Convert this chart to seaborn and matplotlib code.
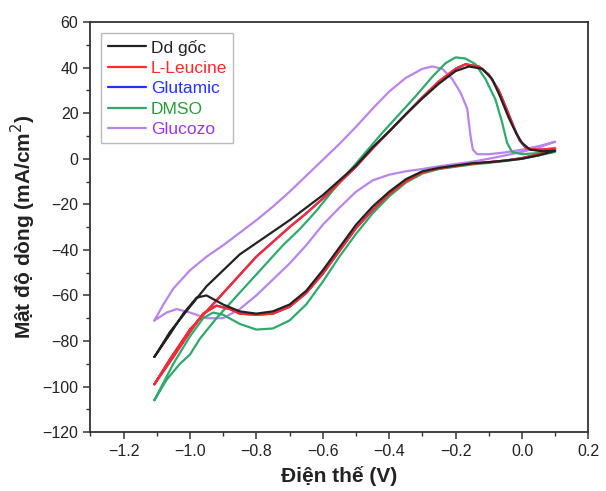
import numpy as np
import pandas as pd
import matplotlib
matplotlib.use("Agg")
import matplotlib.pyplot as plt
from matplotlib.ticker import MultipleLocator
import seaborn as sns

# ---------------- data ----------------
series_names = ["Dd gốc", "L-Leucine", "Glutamic", "DMSO", "Glucozo"]

# Dd gốc: forward branch then return branch
dd_x = [-1.107, -1.06, -1.0, -0.95, -0.90, -0.85, -0.80, -0.75, -0.70, -0.65, -0.60, -0.55, -0.50, -0.45,
        -0.40, -0.35, -0.30, -0.25, -0.20, -0.16, -0.12, -0.09, -0.065, -0.04, -0.017, 0.0, 0.024, 0.06, 0.10,
        0.05, 0.0, -0.05, -0.10, -0.15, -0.20, -0.25, -0.30, -0.35, -0.40, -0.45, -0.50, -0.55, -0.60, -0.65,
        -0.70, -0.75, -0.80, -0.85, -0.90, -0.95, -0.98, -1.02, -1.06, -1.107]
dd_y = [-87, -76, -65, -56, -49, -42, -37, -32, -27, -21.5, -16, -9.5, -3, 5,
        12, 19.5, 26.5, 33, 38.5, 40.5, 39.5, 35, 27, 18, 11, 7, 4, 3.3, 3.5,
        1.5, 0, -0.8, -1.5, -2, -3, -4, -5.5, -9, -14.5, -21, -29, -39, -49, -58,
        -64, -67, -68, -67, -64, -60, -61, -68, -77, -87]

leu_x = [-1.107, -1.06, -1.0, -0.95, -0.90, -0.85, -0.80, -0.75, -0.70, -0.65, -0.60, -0.55, -0.50, -0.45,
         -0.40, -0.35, -0.30, -0.25, -0.20, -0.17, -0.13, -0.10, -0.07, -0.047, -0.025, -0.007, 0.014, 0.05, 0.10,
         0.05, 0.0, -0.05, -0.10, -0.15, -0.20, -0.25, -0.30, -0.35, -0.40, -0.45, -0.50, -0.55, -0.60, -0.65,
         -0.70, -0.75, -0.80, -0.85, -0.88, -0.92, -0.96, -1.0, -1.05, -1.107]
leu_y = [-99, -88, -75, -67, -59, -51, -43, -36.5, -30, -24, -17.5, -10.5, -3.5, 4.5,
         12, 19.5, 27, 34, 39.5, 41.5, 40.5, 37, 30, 22, 14, 8, 4.5, 4, 4.5,
         2, 0.3, -0.8, -1.5, -2.2, -3.2, -4.3, -6, -10, -15.5, -22.5, -30.5, -40.5, -50.5, -59,
         -65, -68, -68.5, -68, -66, -64.5, -68, -76, -87, -99]

glu_x = list(leu_x)
glu_y = list(leu_y)

dmso_x = [-1.107, -1.07, -1.03, -1.0, -0.97, -0.92, -0.87, -0.82, -0.77, -0.72, -0.67, -0.62, -0.57, -0.52,
          -0.47, -0.42, -0.37, -0.32, -0.27, -0.23, -0.20, -0.17, -0.14, -0.11, -0.08, -0.06, -0.045, -0.03, 0.0,
          0.05, 0.10,
          0.05, 0.0, -0.05, -0.10, -0.15, -0.20, -0.25, -0.30, -0.35, -0.40, -0.45, -0.50, -0.55, -0.60, -0.65,
          -0.70, -0.75, -0.80, -0.85, -0.90, -0.93, -0.96, -1.0, -1.05, -1.107]
dmso_y = [-106, -97, -90, -86, -79, -70, -62, -54, -46, -38, -31, -23, -14, -5.5,
          3, 11.5, 19.5, 27.5, 36, 42, 44.5, 44, 41.5, 35, 26, 16, 7, 3, 2,
          2.5, 3,
          1.5, 0, -1, -1.8, -2.5, -3.5, -4.5, -6.5, -10.5, -16.5, -24, -33, -43, -54, -64,
          -71, -74.5, -75, -72.5, -68.5, -67.5, -70, -78, -90, -106]

gluc_x = [-1.107, -1.08, -1.05, -1.0, -0.95, -0.90, -0.85, -0.80, -0.75, -0.70, -0.65, -0.60, -0.55, -0.50,
          -0.45, -0.40, -0.35, -0.30, -0.27, -0.24, -0.21, -0.185, -0.165, -0.155, -0.148, -0.135, -0.10, -0.05,
          0.0, 0.05, 0.10,
          0.05, 0.0, -0.05, -0.10, -0.15, -0.20, -0.25, -0.30, -0.35, -0.40, -0.45, -0.50, -0.55, -0.60, -0.65,
          -0.70, -0.75, -0.80, -0.85, -0.90, -0.95, -1.0, -1.04, -1.07, -1.107]
gluc_y = [-71, -64, -57, -49, -43, -38, -32.5, -27, -21, -14.5, -7.5, -0.5, 6.5, 14,
          22, 29.5, 35.5, 39.5, 40.5, 39.5, 35, 29, 22, 10, 4, 2, 2, 2.8,
          4, 5.5, 7.5,
          5, 3, 1.5, 0, -1.3, -2.3, -3.3, -4.5, -5.5, -7, -9.5, -14.5, -21.5, -29, -38,
          -46, -53, -60, -66, -70, -70, -67.5, -66, -67.5, -71]

line_colors = ["#222222", "#ff2a2a", "#2233ff", "#2eaa6a", "#b985ea"]
text_colors = ["#222222", "#ff2a2a", "#2233ff", "#2a9a3a", "#9a35f0"]

x_ticks = [-1.2, -1.0, -0.8, -0.6, -0.4, -0.2, 0.0, 0.2]
y_ticks = [-120, -100, -80, -60, -40, -20, 0, 20, 40, 60]

# ---------------- figure ----------------
sns.set_theme(style="white")
plt.rcParams["font.family"] = ["Liberation Sans", "DejaVu Sans"]

fig = plt.figure(figsize=(6.06, 4.91), dpi=100)
ax = fig.add_axes([0.149, 0.12, 0.822, 0.835])

data = {"Dd gốc": (dd_x, dd_y), "L-Leucine": (leu_x, leu_y), "Glutamic": (glu_x, glu_y),
        "DMSO": (dmso_x, dmso_y), "Glucozo": (gluc_x, gluc_y)}

draw_order = ["Glutamic", "Glucozo", "DMSO", "L-Leucine", "Dd gốc"]
zmap = {n: i + 2 for i, n in enumerate(draw_order)}
for name, col in zip(series_names, line_colors):
    xs, ys = data[name]
    df = pd.DataFrame({"x": xs, "y": ys, "order": np.arange(len(xs))})
    sns.lineplot(data=df, x="x", y="y", sort=False, estimator=None, color=col,
                 linewidth=1.6, ax=ax, label=name, zorder=zmap[name])

ax.set_xlim(-1.3, 0.2)
ax.set_ylim(-120, 60)
ax.set_xticks(x_ticks)
ax.set_yticks(y_ticks)
ax.set_xticklabels(["\u22121.2", "\u22121.0", "\u22120.8", "\u22120.6", "\u22120.4", "\u22120.2", "0.0", "0.2"])
ax.set_yticklabels(["\u2212120", "\u2212100", "\u221280", "\u221260", "\u221240", "\u221220", "0", "20", "40", "60"])
ax.xaxis.set_minor_locator(MultipleLocator(0.1))
ax.yaxis.set_minor_locator(MultipleLocator(10))
ax.tick_params(axis="both", which="major", direction="out", length=5, width=1.1,
               color="#333333", labelsize=11.5, labelcolor="#222222", bottom=True, left=True)
ax.tick_params(axis="both", which="minor", direction="out", length=3, width=1.0,
               color="#333333", bottom=True, left=True)
ax.tick_params(top=False, right=False, which="both")
for sp in ax.spines.values():
    sp.set_color("#333333")
    sp.set_linewidth(1.3)

ax.set_xlabel("Điện thế (V)", fontsize=15, fontweight="bold", color="#222222", labelpad=5)
ax.set_ylabel("Mật độ dòng (mA/cm$^2$)", fontsize=15, fontweight="bold", color="#222222", labelpad=3)

leg = ax.legend(loc="upper left", bbox_to_anchor=(0.012, 0.985), frameon=True, fancybox=False,
                edgecolor="#aaaaaa", fontsize=12.5, handlelength=2.2, handletextpad=0.3,
                labelspacing=0.3, borderpad=0.35, borderaxespad=0.3)
leg.get_frame().set_linewidth(1.0)
for txt, c in zip(leg.get_texts(), text_colors):
    txt.set_color(c)

fig.savefig("out.png", dpi=100)
